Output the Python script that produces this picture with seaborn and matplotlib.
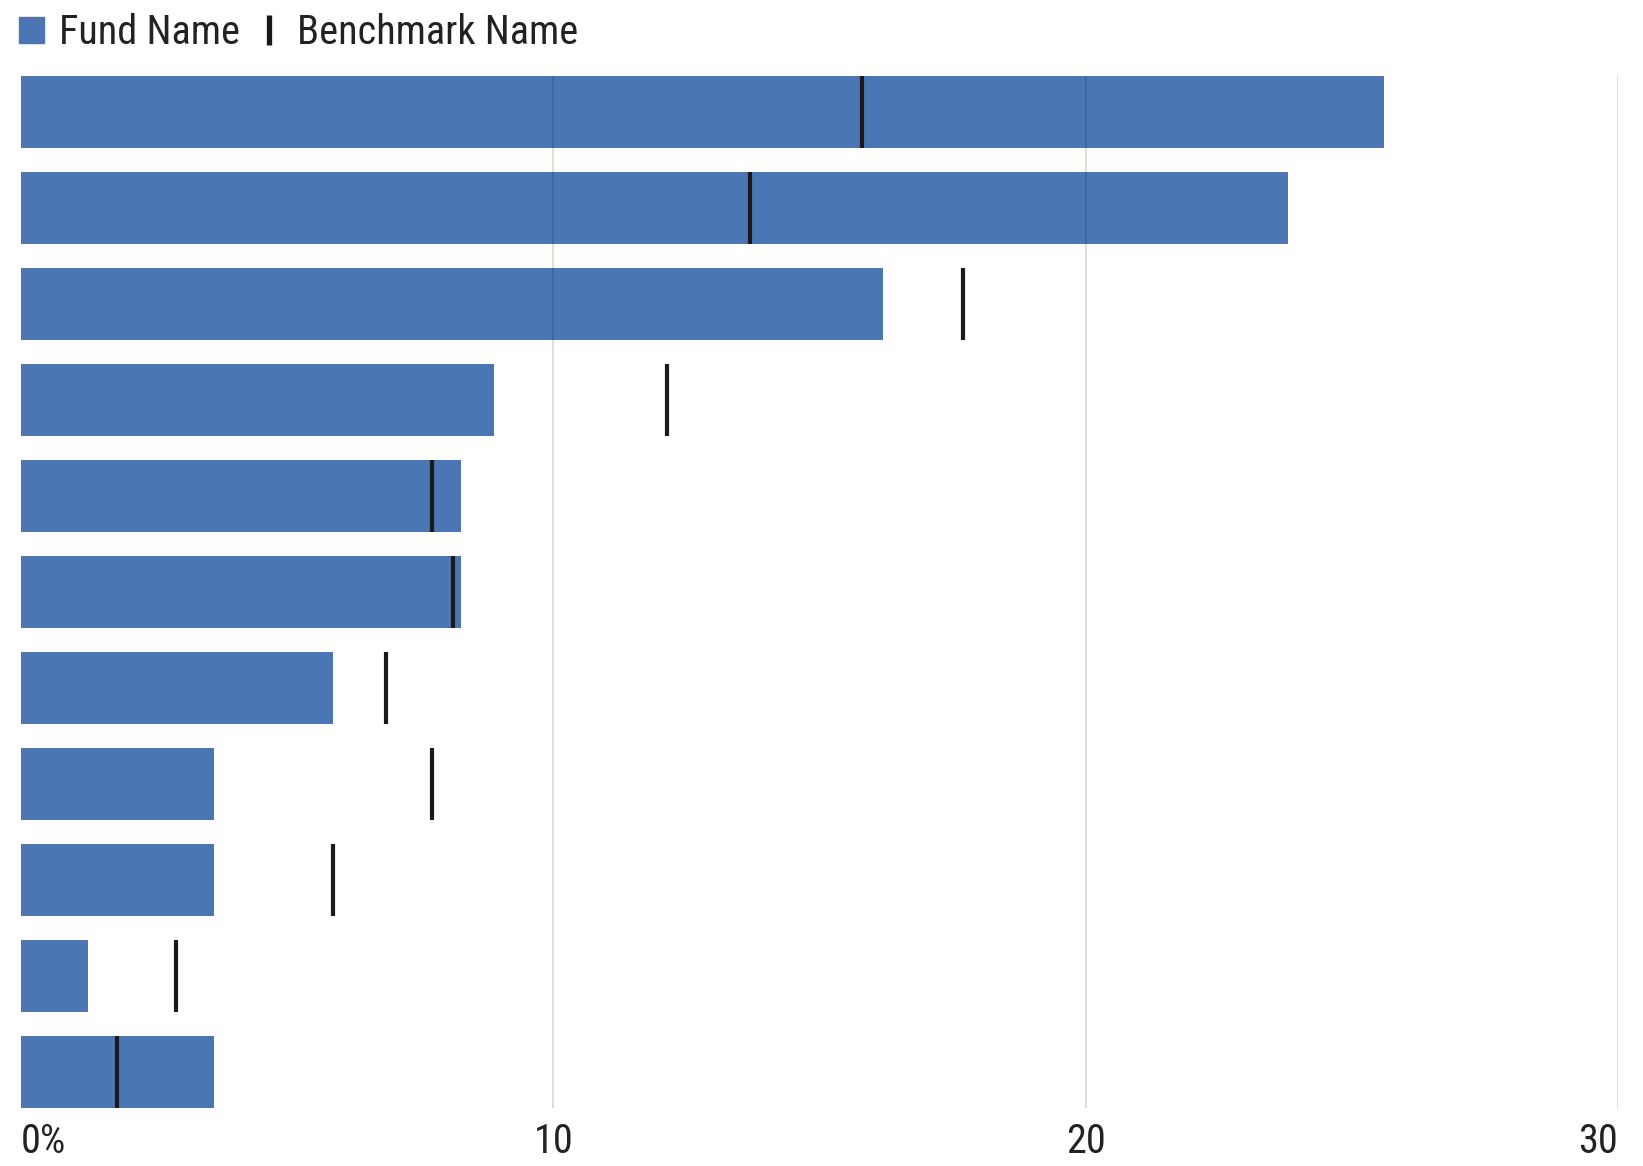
import matplotlib
matplotlib.use("Agg")
import matplotlib.pyplot as plt
import matplotlib.patches as mpatches
from matplotlib.lines import Line2D
from matplotlib import font_manager
import seaborn as sns

# Data (percent)
rows = ["Row 1", "Row 2", "Row 3", "Row 4", "Row 5", "Row 6",
        "Row 7", "Row 8", "Row 9", "Row 10", "Row 11"]
fund_values = [25.6, 23.8, 16.2, 8.88, 8.27, 8.27, 5.86, 3.63, 3.63, 1.25, 3.63]
benchmark_values = [15.8, 13.7, 17.7, 12.13, 7.72, 8.12, 6.85, 7.72, 5.86, 2.91, 1.81]
tick_values = [0, 10, 20, 30]
tick_labels = ["0%", "10", "20", "30"]
legend_labels = ["Fund Name", "Benchmark Name"]

FUND_COLOR = "#4a77b4"
BENCH_COLOR = "#1a1a1a"
TEXT_COLOR = "#222222"
BAR_WIDTH = 0.75

sns.set_theme(style="white")

# pick a condensed face if one is installed
available = {(f.name, f.stretch) for f in font_manager.fontManager.ttflist}
names = {n for n, _ in available}
font_family = ["DejaVu Sans"]
font_stretch = "normal"
for cand in ["Roboto Condensed", "Liberation Sans Narrow", "Open Sans Condensed"]:
    if cand in names:
        font_family = [cand, "DejaVu Sans"]
        break
else:
    if any(n == "DejaVu Sans" and s == "condensed" for n, s in available):
        font_stretch = "condensed"
plt.rcParams["font.family"] = font_family
plt.rcParams["font.stretch"] = font_stretch

fig = plt.figure(figsize=(16.43, 11.66), dpi=100)
ax = fig.add_axes([21 / 1643, 1 - 1108 / 1166, 1597 / 1643, 1032 / 1166])

sns.barplot(x=fund_values, y=rows, orient="h", color=FUND_COLOR,
            saturation=1, width=BAR_WIDTH, linewidth=0, ax=ax)

# benchmark ticks spanning the full bar height
for i, b in enumerate(benchmark_values):
    ax.vlines(b, i - BAR_WIDTH / 2, i + BAR_WIDTH / 2,
              color=BENCH_COLOR, linewidth=3, zorder=3)

ax.set_xlim(0, 30)
ax.set_ylim(len(rows) - 1 + BAR_WIDTH / 2, -BAR_WIDTH / 2)
ax.set_xticks(tick_values)
ax.set_xticklabels(tick_labels)
for lab, ha in zip(ax.get_xticklabels(), ["left", "center", "center", "right"]):
    lab.set_ha(ha)
ax.tick_params(axis="x", length=0, pad=10, labelsize=29, labelcolor=TEXT_COLOR)
ax.set_yticks([])
ax.set_xlabel("")
ax.set_ylabel("")
for side in ["top", "right", "bottom", "left"]:
    ax.spines[side].set_visible(False)

ax.set_axisbelow(False)
ax.grid(axis="x", color="black", alpha=0.13, linewidth=1.5)
ax.grid(axis="y", visible=False)
# no gridline at the zero baseline
ax.xaxis.get_gridlines()[0].set_visible(False)

handles = [
    mpatches.Patch(color=FUND_COLOR),
    Line2D([], [], marker="|", linestyle="none", markersize=21,
           markeredgewidth=3.8, color=BENCH_COLOR),
]
fig.legend(handles, legend_labels, loc="upper left",
           bbox_to_anchor=(19 / 1643, 1 - 13 / 1166), ncol=2, frameon=False,
           fontsize=29, labelcolor=TEXT_COLOR, handlelength=0.62,
           handleheight=0.62, handletextpad=0.38, columnspacing=0.4,
           borderpad=0, borderaxespad=0)

fig.savefig("out.png", dpi=100)
